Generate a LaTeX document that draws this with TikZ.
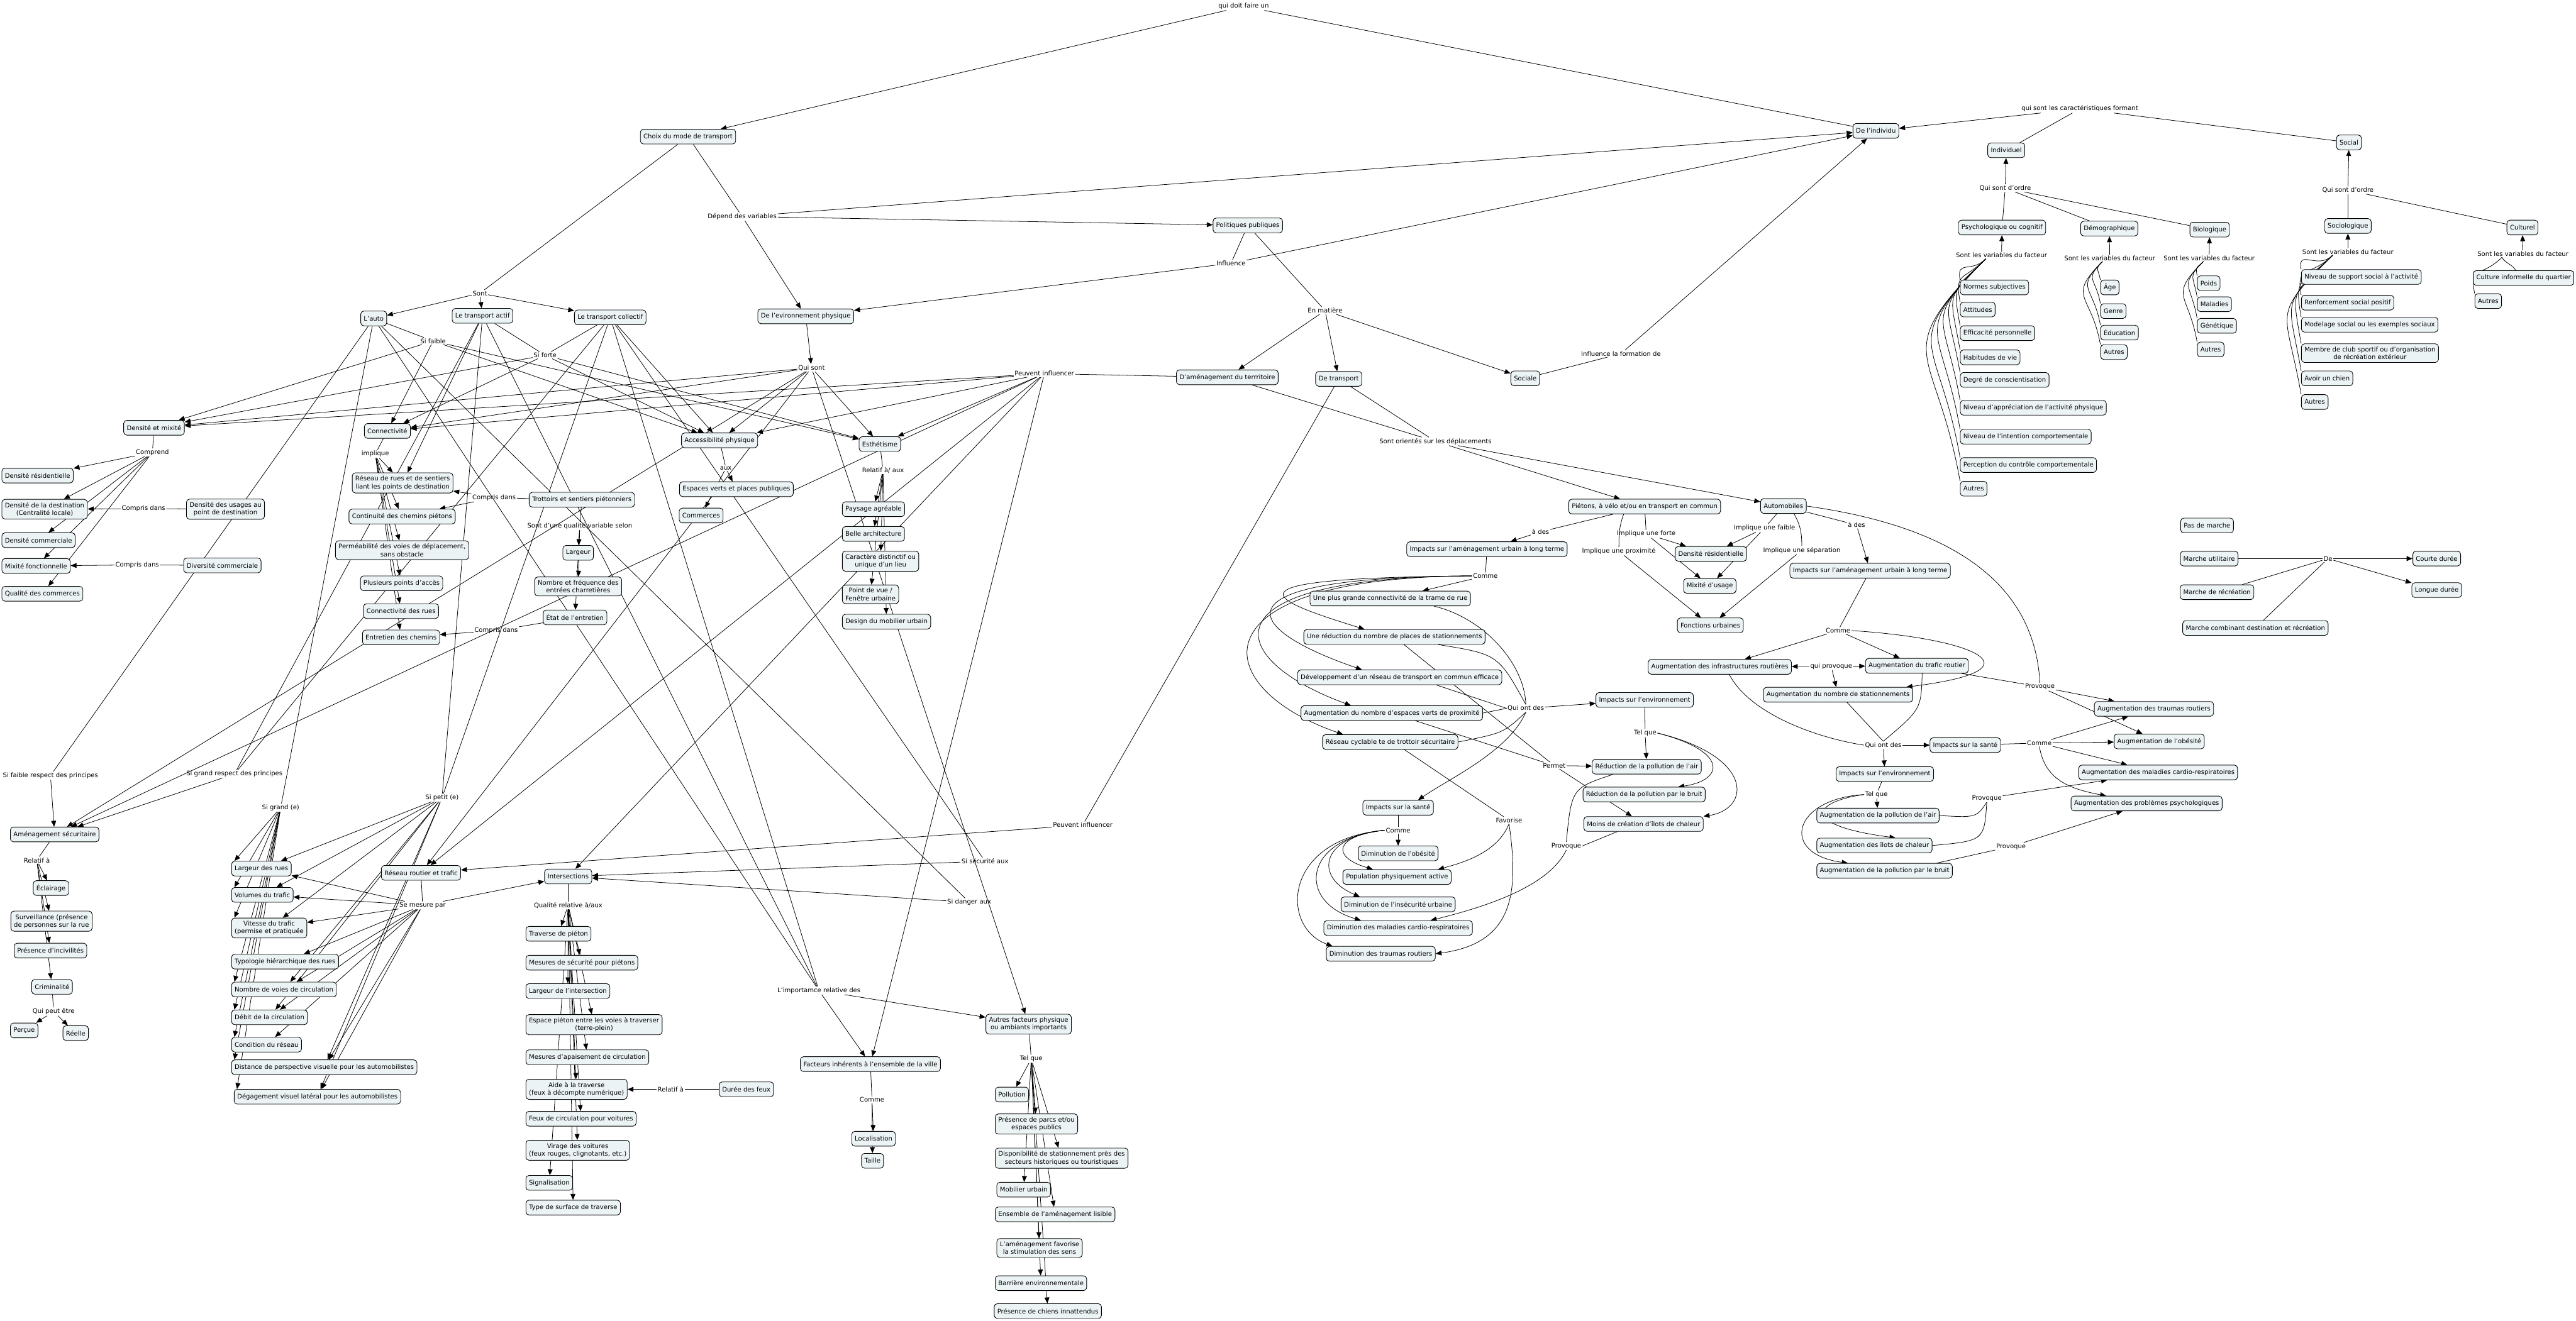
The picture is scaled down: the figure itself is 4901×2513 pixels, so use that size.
\documentclass[tikz,border=0pt]{standalone}
\usepackage{fontspec}
\setmainfont{DejaVu Sans}
\usetikzlibrary{arrows.meta, backgrounds, calc}
\definecolor{cmapbox}{RGB}{236,243,245}

\begin{document}
\begin{tikzpicture}[
        x=0.03cm, y=0.03cm,
        font=\fontsize{10.3}{12.4}\selectfont,
        box/.style={draw, rounded corners=5pt, fill=cmapbox, align=center, line width=0.9pt, inner xsep=5pt, inner ysep=5pt, minimum height=24pt},
        lbl/.style={inner sep=1.5pt, align=center},
        arr/.style={-{Triangle[length=3.4mm, width=2.8mm]}, line width=0.8pt},
        lin/.style={line width=0.8pt},
        bow/.style={lin, out=225, in=100, looseness=1.6}
    ]
    \useasboundingbox (0,0) rectangle (4901,-2513);

    \node[lbl] (doit) at (2366,-12) {qui doit faire un};
    \node[box] (choix) at (1309,-260) {Choix du mode de transport};
    \node[box] (individu) at (3569,-249) {De l'individu};
    \node[lbl] (depend) at (1412,-412) {Dépend des variables};
    \node[box] (polpub) at (2374,-429) {Politiques publiques};
    \node[lbl] (influ) at (2342,-501) {Influence};
    \node[box] (envphys) at (1533,-602) {De l'evironnement physique};
    \node[lbl] (enmat) at (2521,-591) {En matière};
    \node[lbl] (form) at (3084,-673) {Influence la formation de};
    \node[box] (amenag) at (2335,-718) {D'aménagement du terrritoire};
    \node[box] (detransp) at (2547,-721) {De transport};
    \node[box] (sociale) at (2902,-720) {Sociale};

    \node[lbl] (carac) at (3957,-207) {qui sont les caractéristiques formant};
    \node[box] (individuel) at (3817,-286) {Individuel};
    \node[box] (social) at (4469,-271) {Social};
    \node[lbl] (ordre1) at (3815,-358) {Qui sont d'ordre};
    \node[lbl] (ordre2) at (4467,-362) {Qui sont d'ordre};
    \node[box] (psycho) at (3809,-433) {Psychologique ou cognitif};
    \node[box] (demog) at (4013,-435) {Démographique};
    \node[box] (biolog) at (4204,-437) {Biologique};
    \node[box] (sociol) at (4467,-430) {Sociologique};
    \node[box] (cultur) at (4799,-433) {Culturel};
    \node[lbl] (var1) at (3808,-486) {Sont les variables du facteur};
    \node[lbl] (var2) at (4014,-491) {Sont les variables du facteur};
    \node[lbl] (var3) at (4203,-491) {Sont les variables du facteur};
    \node[lbl] (var4) at (4467,-479) {Sont les variables du facteur};
    \node[lbl] (var5) at (4800,-483) {Sont les variables du facteur};
    \node[box, anchor=west] (normes) at (3729,-547) {Normes subjectives};
    \node[box, anchor=west] (attitudes) at (3729,-589) {Attitudes};
    \node[box, anchor=west] (efficac) at (3729,-634) {Efficacité personnelle};
    \node[box, anchor=west] (habitudes) at (3729,-680) {Habitudes de vie};
    \node[box, anchor=west] (degre) at (3729,-723) {Degré de conscientisation};
    \node[box, anchor=west] (apprec) at (3729,-776) {Niveau d'appréciation de l'activité physique};
    \node[box, anchor=west] (intention) at (3729,-831) {Niveau de l'intention comportementale};
    \node[box, anchor=west] (perception) at (3729,-885) {Perception du contrôle comportementale};
    \node[box, anchor=west] (autresa) at (3729,-930) {Autres};
    \node[box, anchor=west] (age) at (3996,-547) {Âge};
    \node[box, anchor=west] (genre) at (3996,-592) {Genre};
    \node[box, anchor=west] (educ) at (3996,-633) {Éducation};
    \node[box, anchor=west] (autresb) at (3996,-670) {Autres};
    \node[box, anchor=west] (poids) at (4180,-539) {Poids};
    \node[box, anchor=west] (maladies) at (4180,-579) {Maladies};
    \node[box, anchor=west] (genet) at (4180,-620) {Génétique};
    \node[box, anchor=west] (autresc) at (4180,-665) {Autres};
    \node[box, anchor=west] (support) at (4378,-527) {Niveau de support social à l'activité};
    \node[box, anchor=west] (renforc) at (4378,-576) {Renforcement social positif};
    \node[box, anchor=west] (modelage) at (4378,-618) {Modelage social ou les exemples sociaux};
    \node[box, anchor=west] (membre) at (4378,-672) {Membre de club sportif ou d'organisation\\de récréation extérieur};
    \node[box, anchor=west] (chien) at (4378,-720) {Avoir un chien};
    \node[box, anchor=west] (autresd) at (4378,-765) {Autres};
    \node[box, anchor=west] (cultinf) at (4705,-529) {Culture informelle du quartier};
    \node[box, anchor=west] (autrese) at (4708,-573) {Autres};

    \node[lbl] (sont) at (913,-558) {Sont};
    \node[box] (auto) at (711,-606) {L'auto};
    \node[box] (actif) at (918,-601) {Le transport actif};
    \node[box] (collectif) at (1161,-604) {Le transport collectif};
    \node[lbl] (sifaible) at (824,-649) {Si faible};
    \node[lbl] (siforte) at (1037,-676) {Si forte};
    \node[lbl] (quisont) at (1544,-700) {Qui sont};
    \node[lbl] (peuvent) at (1987,-711) {Peuvent influencer};

    \node[box] (densmix) at (293,-814) {Densité et mixité};
    \node[box] (connect) at (737,-820) {Connectivité};
    \node[box] (access) at (1369,-838) {Accessibilité physique};
    \node[box] (esthet) at (1674,-845) {Esthétisme};
    \node[lbl] (comprend) at (290,-861) {Comprend};
    \node[lbl] (implique) at (714,-864) {implique};
    \node[lbl] (aux) at (1381,-891) {aux};
    \node[lbl] (relaux) at (1680,-895) {Relatif à/ aux};

    \node[box, anchor=west] (densres) at (3,-905) {Densité résidentielle};
    \node[box, anchor=west] (densdest) at (3,-969) {Densité de la destination\\(Centralité locale)};
    \node[box, anchor=west] (denscom) at (3,-1028) {Densité commerciale};
    \node[box, anchor=west] (mixfonc) at (3,-1077) {Mixité fonctionnelle};
    \node[box, anchor=west] (qualcom) at (3,-1130) {Qualité des commerces};
    \node[lbl] (compris1) at (273,-968) {Compris dans};
    \node[box] (densusag) at (429,-969) {Densité des usages au\\point de destination};
    \node[lbl] (compris2) at (261,-1075) {Compris dans};
    \node[box] (divcom) at (423,-1076) {Diversité commerciale};

    \node[box] (reseaurues) at (766,-919) {Réseau de rues et de sentiers\\liant les points de destination};
    \node[box] (continu) at (765,-983) {Continuité des chemins piétons};
    \node[box] (permeab) at (765,-1047) {Perméabilité des voies de déplacement,\\sans obstacle};
    \node[box] (pointsacc) at (764,-1110) {Plusieurs points d'accès};
    \node[box] (connrues) at (763,-1163) {Connectivité des rues};
    \node[box] (entretien) at (763,-1213) {Entretien des chemins};
    \node[lbl] (compris3) at (940,-947) {Compris dans};
    \node[lbl] (compris4) at (944,-1200) {Compris dans};

    \node[box] (trottoirs) at (1107,-951) {Trottoirs et sentiers piétonniers};
    \node[lbl] (qualvar) at (1103,-1001) {Sont d'une qualité variable selon};
    \node[box] (largeur) at (1100,-1052) {Largeur};
    \node[box] (entrees) at (1100,-1116) {Nombre et fréquence des\\entrées charretières};
    \node[box] (etatentr) at (1094,-1175) {État de l'entretien};
    \node[box] (espverts) at (1401,-931) {Espaces verts et places publiques};
    \node[box] (commerces) at (1334,-981) {Commerces};

    \node[box, anchor=west] (paysage) at (1602,-969) {Paysage agréable};
    \node[box, anchor=west] (archi) at (1602,-1016) {Belle architecture};
    \node[box, anchor=west] (caract) at (1602,-1068) {Caractère distinctif ou\\unique d'un lieu};
    \node[box, anchor=west] (pointvue) at (1602,-1131) {Point de vue /\\Fenêtre urbaine};
    \node[box, anchor=west] (design) at (1602,-1183) {Design du mobilier urbain};

    \node[lbl] (sifrp) at (96,-1476) {Si faible respect des principes};
    \node[lbl] (sigrp) at (446,-1473) {Si grand respect des principes};
    \node[lbl] (sigrand) at (534,-1537) {Si grand (e)};
    \node[lbl] (sipetit) at (841,-1518) {Si petit (e)};
    \node[box] (amsecu) at (104,-1588) {Aménagement sécuritaire};
    \node[lbl] (relatif) at (70,-1637) {Relatif à};
    \node[box] (eclair) at (97,-1690) {Éclairage};
    \node[box] (surveil) at (98,-1753) {Surveillance (présence\\de personnes sur la rue};
    \node[box] (incivil) at (96,-1809) {Présence d'incivilités};
    \node[box] (crimin) at (99,-1878) {Criminalité};
    \node[lbl] (peutetre) at (102,-1925) {Qui peut être};
    \node[box] (percue) at (46,-1961) {Perçue};
    \node[box] (reelle) at (144,-1966) {Réelle};

    \node[box, anchor=west] (largrues) at (440,-1653) {Largeur des rues};
    \node[box, anchor=west] (volumes) at (440,-1703) {Volumes du trafic};
    \node[box, anchor=west] (vitesse) at (440,-1766) {Vitesse du trafic\\(permise et pratiquée};
    \node[box, anchor=west] (typolog) at (440,-1830) {Typologie hiérarchique des rues};
    \node[box, anchor=west] (nbvoies) at (440,-1883) {Nombre de voies de circulation};
    \node[box, anchor=west] (debit) at (440,-1936) {Débit de la circulation};
    \node[box, anchor=west] (condres) at (440,-1988) {Condition du réseau};
    \node[box, anchor=west] (distpersp) at (440,-2031) {Distance de perspective visuelle pour les automobilistes};
    \node[box, anchor=west] (degag) at (445,-2087) {Dégagement visuel latéral pour les automobilistes};
    \node[box] (resrout) at (801,-1661) {Réseau routier et trafic};
    \node[lbl] (mesure) at (804,-1723) {Se mesure par};

    \node[box] (intersect) at (1081,-1668) {Intersections};
    \node[lbl] (qualrel) at (1081,-1723) {Qualité relative à/aux};
    \node[box, anchor=west] (travpiet) at (1000,-1777) {Traverse de piéton};
    \node[box, anchor=west] (mesecu) at (1000,-1832) {Mesures de sécurité pour piétons};
    \node[box, anchor=west] (larginter) at (1000,-1886) {Largeur de l'intersection};
    \node[box, anchor=west] (esppiet) at (1000,-1950) {Espace piéton entre les voies à traverser\\(terre-plein)};
    \node[box, anchor=west] (apais) at (1000,-2012) {Mesures d'apaisement de circulation};
    \node[box, anchor=west] (aidetrav) at (1000,-2073) {Aide à la traverse\\(feux à décompte numérique)};
    \node[box, anchor=west] (feuxcirc) at (1000,-2129) {Feux de circulation pour voitures};
    \node[box, anchor=west] (virage) at (1000,-2189) {Virage des voitures\\(feux rouges, clignotants, etc.)};
    \node[box, anchor=west] (signal) at (1000,-2251) {Signalisation};
    \node[box, anchor=west] (surface) at (1000,-2298) {Type de surface de traverse};
    \node[lbl] (relatif2) at (1276,-2073) {Relatif à};
    \node[box] (dureefeux) at (1420,-2073) {Durée des feux};

    \node[lbl] (sisecu) at (1874,-1639) {Si sécurité aux};
    \node[lbl] (sidanger) at (1844,-1717) {Si danger aux};
    \node[lbl] (peuvent2) at (2060,-1570) {Peuvent influencer};
    \node[lbl] (import) at (1558,-1885) {L'importamce relative des};
    \node[box] (factinh) at (1656,-2025) {Facteurs inhérents à l'ensemble de la ville};
    \node[lbl] (comme0) at (1659,-2093) {Comme};
    \node[box] (localis) at (1662,-2167) {Localisation};
    \node[box] (taille) at (1660,-2209) {Taille};
    \node[box] (autresfact) at (1957,-1949) {Autres facteurs physique\\ou ambiants importants};
    \node[lbl] (telque0) at (1962,-2015) {Tel que};
    \node[box, anchor=west] (pollution) at (1893,-2083) {Pollution};
    \node[box, anchor=west] (parcs) at (1893,-2139) {Présence de parcs et/ou\\espaces publics};
    \node[box, anchor=west] (dispstat) at (1893,-2204) {Disponibilité de stationnement près des\\secteurs historiques ou touristiques};
    \node[box, anchor=west] (mobilier) at (1896,-2264) {Mobilier urbain};
    \node[box, anchor=west] (ensemble) at (1893,-2311) {Ensemble de l'aménagement lisible};
    \node[box, anchor=west] (stimul) at (1896,-2375) {L'aménagement favorise\\la stimulation des sens};
    \node[box, anchor=west] (barriere) at (1893,-2442) {Barrière environnementale};
    \node[box, anchor=west] (chiens) at (1891,-2495) {Présence de chiens innattendus};

    \node[lbl] (orient) at (2731,-840) {Sont orientés sur les déplacements};
    \node[box] (pietons) at (3129,-964) {Piétons, à vélo et/ou en transport en commun};
    \node[box] (automob) at (3393,-963) {Automobiles};
    \node[lbl] (ades1) at (2931,-1012) {à des};
    \node[lbl] (forte) at (3132,-1016) {Implique une forte};
    \node[lbl] (faible) at (3357,-1005) {Implique une faible};
    \node[lbl] (proxim) at (3080,-1049) {Implique une proximité};
    \node[lbl] (separ) at (3428,-1047) {Implique une séparation};
    \node[lbl] (ades2) at (3532,-999) {à des};
    \node[box] (densres2) at (3255,-1054) {Densité résidentielle};
    \node[box] (mixusage) at (3253,-1115) {Mixité d'usage};
    \node[box] (foncturb) at (3254,-1190) {Fonctions urbaines};

    \node[box] (impamL) at (2829,-1045) {Impacts sur l'aménagement urbain à long terme};
    \node[lbl] (commeL) at (2826,-1096) {Comme};
    \node[box] (trame) at (2645,-1139) {Une plus grande connectivité de la trame de rue};
    \node[box] (reducstat) at (2653,-1212) {Une réduction du nombre de places de stationnements};
    \node[box] (devtc) at (2663,-1289) {Développement d'un réseau de transport en commun efficace};
    \node[box] (augverts) at (2648,-1357) {Augmentation du nombre d'espaces verts de proximité};
    \node[box] (cyclable) at (2645,-1412) {Réseau cyclable te de trottoir sécuritaire};
    \node[lbl] (quiontL) at (2903,-1348) {Qui ont des};
    \node[box] (impenvL) at (3129,-1332) {Impacts sur l'environnement};
    \node[lbl] (telqueL) at (3130,-1395) {Tel que};
    \node[lbl] (permet) at (2957,-1457) {Permet};
    \node[box] (redair) at (3133,-1459) {Réduction de la pollution de l'air};
    \node[box] (redbruit) at (3128,-1512) {Réduction de la pollution par le bruit};
    \node[box] (moinsilots) at (3127,-1568) {Moins de création d'îlots de chaleur};
    \node[lbl] (provL) at (2980,-1610) {Provoque};
    \node[box] (impsanteL) at (2660,-1537) {Impacts sur la santé};
    \node[lbl] (commeS) at (2660,-1580) {Comme};
    \node[lbl] (favor) at (2871,-1561) {Favorise};
    \node[box] (dimobes) at (2660,-1624) {Diminution de l'obésité};
    \node[box] (popact) at (2658,-1669) {Population physiquement active};
    \node[box] (diminsec) at (2660,-1721) {Diminution de l'insécurité urbaine};
    \node[box] (dimmal) at (2660,-1766) {Diminution des maladies cardio-respiratoires};
    \node[box] (dimtraum) at (2627,-1815) {Diminution des traumas routiers};

    \node[box] (impamR) at (3558,-1086) {Impacts sur l'aménagement urbain à long terme};
    \node[lbl] (commeR) at (3497,-1200) {Comme};
    \node[box] (augmentinfra) at (3272,-1269) {Augmentation des infrastructures routières};
    \node[lbl] (quiprov) at (3484,-1268) {qui provoque};
    \node[box] (augtrafic) at (3647,-1267) {Augmentation du trafic routier};
    \node[box] (augstat) at (3497,-1322) {Augmentation du nombre de stationnements};
    \node[lbl] (provT) at (3881,-1307) {Provoque};
    \node[box] (augtraum) at (4098,-1349) {Augmentation des traumas routiers};
    \node[box] (augobes) at (4108,-1411) {Augmentation de l'obésité};
    \node[box] (augmal) at (4106,-1470) {Augmentation des maladies cardio-respiratoires};
    \node[box] (augpsy) at (4084,-1529) {Augmentation des problèmes psychologiques};
    \node[lbl] (quiontR) at (3583,-1418) {Qui ont des};
    \node[box] (impsanteR) at (3739,-1418) {Impacts sur la santé};
    \node[lbl] (commeR2) at (3880,-1414) {Comme};
    \node[box] (impenvR) at (3586,-1473) {Impacts sur l'environnement};
    \node[lbl] (telqueR) at (3570,-1512) {Tel que};
    \node[box, anchor=west] (augair) at (3456,-1552) {Augmentation de la pollution de l'air};
    \node[box, anchor=west] (augilots) at (3456,-1609) {Augmentation des îlots de chaleur};
    \node[box, anchor=west] (augbruit) at (3456,-1657) {Augmentation de la pollution par le bruit};
    \node[lbl] (provR1) at (3780,-1519) {Provoque};
    \node[lbl] (provR2) at (3826,-1611) {Provoque};

    \node[box] (pasmarche) at (4199,-1000) {Pas de marche};
    \node[box] (marcheutil) at (4203,-1063) {Marche utilitaire};
    \node[lbl] (de) at (4429,-1063) {De};
    \node[box] (courte) at (4636,-1063) {Courte durée};
    \node[box] (marcherec) at (4218,-1127) {Marche de récréation};
    \node[box] (longue) at (4636,-1123) {Longue durée};
    \node[box] (marchecomb) at (4291,-1195) {Marche combinant destination et récréation};

    \begin{scope}[on background layer]
        \draw[lin] (individu) -- (doit);
        \draw[arr] (doit) -- (choix);
        \draw[lin] (choix) -- (sont);
        \foreach \t in {auto,actif,collectif} \draw[arr] (sont) -- (\t);
        \draw[lin] (choix) -- (depend);
        \foreach \t in {envphys,polpub,individu} \draw[arr] (depend) -- (\t);
        \draw[lin] (polpub) -- (influ);
        \foreach \t in {envphys,individu} \draw[arr] (influ) -- (\t);
        \draw[lin] (polpub) -- (enmat);
        \foreach \t in {amenag,detransp,sociale} \draw[arr] (enmat) -- (\t);
        \draw[lin] (sociale) -- (form);
        \draw[arr] (form) -- (individu);

        \draw[lin] (individuel) -- (carac);
        \draw[lin] (social) -- (carac);
        \draw[arr] (carac) -- (individu);
        \foreach \s in {psycho,demog,biolog} \draw[lin] (\s) -- (ordre1);
        \draw[arr] (ordre1) -- (individuel);
        \foreach \s in {sociol,cultur} \draw[lin] (\s) -- (ordre2);
        \draw[arr] (ordre2) -- (social);
        \draw[arr] (var1) -- (psycho);
        \draw[arr] (var2) -- (demog);
        \draw[arr] (var3) -- (biolog);
        \draw[arr] (var4) -- (sociol);
        \draw[arr] (var5) -- (cultur);
        \foreach \v in {normes,attitudes,efficac,habitudes,degre,apprec,intention,perception,autresa}
            \draw[bow] ($(var1.south)+(-30,0)$) to (\v.north west);
        \foreach \v in {age,genre,educ,autresb}
            \draw[bow] ($(var2.south)+(-14,0)$) to (\v.north west);
        \foreach \v in {poids,maladies,genet,autresc}
            \draw[bow] ($(var3.south)+(-11,0)$) to (\v.north west);
        \foreach \v in {support,renforc,modelage,membre,chien,autresd}
            \draw[bow] ($(var4.south)+(-29,0)$) to (\v.north west);
        \draw[lin] ($(var5.south)+(-40,0)$) to[out=-60, in=120] ($(cultinf.north)+(-15,0)$);
        \draw[bow] ($(var5.south)+(-40,0)$) to (autrese.north west);

        \draw[arr] (envphys) -- (quisont);
        \draw[lin] (auto) -- (sifaible);
        \draw[lin] (actif) -- (siforte);
        \draw[lin] (collectif) -- (siforte);
        \foreach \t in {densmix,connect,access,esthet} {
            \draw[arr] (sifaible) -- (\t);
            \draw[arr] (siforte) -- (\t);
        }
        \foreach \t in {densmix,connect,access,esthet,resrout,amsecu,autresfact} \draw[arr] (quisont) -- (\t);
        \draw[lin] (amenag) -- (peuvent);
        \foreach \t in {densmix,connect,access,esthet,resrout,intersect,amsecu,factinh} \draw[arr] (peuvent) -- (\t);
        \draw[arr] (collectif) -- (access);
        \draw[arr] (actif) -- (reseaurues);
        \draw[lin] (detransp) -- (peuvent2);
        \draw[arr] (peuvent2) -- (resrout);

        \draw[lin] (auto) -- (sifrp);
        \draw[arr] (sifrp) -- (amsecu);
        \draw[lin] (actif) -- (sigrp);
        \draw[lin] (collectif) -- (sigrp);
        \draw[arr] (sigrp) -- (amsecu);
        \draw[lin] (auto) -- (sigrand);
        \foreach \t in {largrues,volumes,vitesse,nbvoies,debit,condres,distpersp,degag}
            \draw[arr] (sigrand) -- ($(\t.north west)+(6,0)$);
        \draw[lin] (actif) -- (sipetit);
        \draw[lin] (collectif) -- (sipetit);
        \foreach \t in {largrues,volumes,vitesse,nbvoies,debit,distpersp,degag} \draw[arr] (sipetit) -- (\t);
        \draw[lin] (collectif) -- (sisecu);
        \draw[arr] (sisecu) -- (intersect);
        \draw[lin] (auto) -- (sidanger);
        \draw[arr] (sidanger) -- (intersect);
        \foreach \s in {auto,actif,collectif} \draw[lin] (\s) -- (import);
        \draw[arr] (import) -- (factinh);
        \draw[arr] (import) -- (autresfact);

        \draw[lin] (densmix) -- (comprend);
        \foreach \t in {densres,densdest,denscom,mixfonc,qualcom} \draw[arr] (comprend) -- (\t);
        \draw[lin] (densusag) -- (compris1);
        \draw[arr] (compris1) -- (densdest);
        \draw[lin] (divcom) -- (compris2);
        \draw[arr] (compris2) -- (mixfonc);
        \draw[lin] (connect) -- (implique);
        \foreach \t in {reseaurues,continu,permeab,pointsacc,connrues,entretien} \draw[arr] (implique) -- (\t);
        \draw[lin] (trottoirs) -- (compris3);
        \draw[arr] (compris3) -- (reseaurues);
        \draw[arr] (compris3) -- (continu);
        \draw[lin] (trottoirs) -- (qualvar);
        \foreach \t in {largeur,entrees,etatentr} \draw[arr] (qualvar) -- (\t);
        \draw[lin] (etatentr) -- (compris4);
        \draw[arr] (compris4) -- (entretien);
        \draw[lin] (access) -- (aux);
        \draw[arr] (aux) -- (espverts);
        \draw[arr] (aux) -- (commerces);
        \draw[lin] (esthet) -- (relaux);
        \foreach \t in {paysage,archi,caract,pointvue,design} \draw[arr] (relaux) -- (\t);

        \draw[lin] (amsecu) -- (relatif);
        \foreach \t in {eclair,surveil,incivil,crimin} \draw[arr] (relatif) -- (\t);
        \draw[lin] (crimin) -- (peutetre);
        \draw[arr] (peutetre) -- (percue);
        \draw[arr] (peutetre) -- (reelle);
        \draw[lin] (resrout) -- (mesure);
        \foreach \t in {largrues,volumes,vitesse,typolog,nbvoies,debit,condres,distpersp,degag,intersect} \draw[arr] (mesure) -- (\t);
        \draw[lin] (intersect) -- (qualrel);
        \foreach \t in {travpiet,mesecu,larginter,esppiet,apais,aidetrav,feuxcirc,virage,signal,surface} \draw[arr] (qualrel) -- (\t);
        \draw[lin] (dureefeux) -- (relatif2);
        \draw[arr] (relatif2) -- (aidetrav);
        \draw[lin] (factinh) -- (comme0);
        \draw[arr] (comme0) -- (localis);
        \draw[arr] (comme0) -- (taille);
        \draw[lin] (autresfact) -- (telque0);
        \foreach \t in {pollution,parcs,dispstat,mobilier,ensemble,stimul,barriere,chiens} \draw[arr] (telque0) -- (\t);

        \draw[lin] (amenag) -- (orient);
        \draw[lin] (detransp) -- (orient);
        \draw[arr] (orient) -- (pietons);
        \draw[arr] (orient) -- (automob);
        \draw[lin] (pietons) -- (ades1);
        \draw[arr] (ades1) -- (impamL);
        \draw[lin] (pietons) -- (forte);
        \draw[arr] (forte) -- (densres2);
        \draw[arr] (forte) -- (mixusage);
        \draw[lin] ($(pietons.south)+(-40,0)$) to[out=-110, in=90] (proxim);
        \draw[arr] (proxim) -- (foncturb);
        \draw[lin] (automob) -- (faible);
        \draw[arr] (faible) -- (densres2);
        \draw[arr] (faible) -- (mixusage);
        \draw[lin] ($(automob.south)+(20,0)$) to[out=-60, in=90] (separ);
        \draw[arr] (separ) -- (foncturb);
        \draw[lin] (automob) -- (ades2);
        \draw[arr] (ades2) -- (impamR);
        \draw[lin] (automob.east) .. controls (3700,-1000) and (3870,-1100) .. (provT.north);

        \draw[lin] (impamL) -- (commeL);
        \draw[arr] (commeL) -- (trame);
        \draw[arr] (commeL.west) .. controls (2310,-1100) and (2410,-1140) .. ($(reducstat.north)+(-57,0)$);
        \draw[arr] (commeL.west) .. controls (2300,-1098) and (2360,-1195) .. ($(devtc.north)+(-72,0)$);
        \draw[arr] (commeL.west) .. controls (2280,-1098) and (2330,-1255) .. ($(augverts.north)+(-78,0)$);
        \draw[arr] (commeL.west) .. controls (2260,-1098) and (2300,-1310) .. ($(cyclable.north)+(-90,0)$);
        \draw[lin] ($(trame.south east)+(-70,0)$) .. controls (2820,-1175) and (2900,-1260) .. (quiontL.north);
        \draw[lin] ($(reducstat.south east)+(-90,0)$) .. controls (2850,-1245) .. (quiontL.north);
        \draw[lin] ($(devtc.south)+(70,0)$) -- (quiontL.west);
        \draw[lin] (augverts.east) -- (quiontL.west);
        \draw[lin] (cyclable.east) .. controls (2860,-1395) .. (quiontL.south);
        \draw[arr] (quiontL) -- (impenvL);
        \draw[arr] (quiontL.south) .. controls (2870,-1430) and (2760,-1480) .. ($(impsanteL.north)+(38,0)$);
        \draw[lin] (reducstat) -- (permet);
        \draw[lin] (augverts) -- (permet);
        \draw[arr] (permet) -- (redair);
        \draw[arr] (permet) -- (moinsilots);
        \draw[lin] (impenvL) -- (telqueL);
        \draw[arr] (telqueL) -- (redair);
        \draw[arr] (telqueL.east) .. controls (3290,-1430) and (3280,-1485) .. ($(redbruit.north)+(65,0)$);
        \draw[arr] (telqueL.east) .. controls (3340,-1440) and (3330,-1540) .. (moinsilots.north east);
        \draw[lin] ($(redair.south)+(-64,0)$) .. controls (2990,-1500) .. (provL.north);
        \draw[lin] ($(moinsilots.south)+(-50,0)$) -- (provL.east);
        \draw[arr] (provL.south) .. controls (2950,-1680) and (2850,-1720) .. ($(dimmal.north)+(62,0)$);
        \draw[lin] ($(cyclable.south)+(27,0)$) -- (favor);
        \draw[arr] (favor.south) .. controls (2850,-1620) and (2790,-1640) .. ($(popact.north)+(78,0)$);
        \draw[arr] (favor.south) .. controls (2890,-1700) and (2880,-1795) .. (dimtraum.east);
        \draw[lin] (impsanteL) -- (commeS);
        \draw[arr] (commeS) -- (dimobes);
        \draw[arr] (commeS.west) .. controls (2540,-1590) and (2530,-1630) .. ($(popact.north)+(-46,0)$);
        \draw[arr] (commeS.west) .. controls (2510,-1592) and (2500,-1670) .. ($(diminsec.north)+(-73,0)$);
        \draw[arr] (commeS.west) .. controls (2480,-1594) and (2465,-1715) .. ($(dimmal.north)+(-71,0)$);
        \draw[arr] (commeS.west) .. controls (2440,-1596) and (2435,-1765) .. ($(dimtraum.north)+(-92,0)$);

        \draw[lin] (impamR) -- (commeR);
        \draw[arr] (commeR) -- (augmentinfra);
        \draw[arr] (commeR) -- (augtrafic);
        \draw[arr] (commeR.east) .. controls (3760,-1215) and (3890,-1275) .. ($(augstat.north)+(130,0)$);
        \draw[arr] (quiprov) -- (augmentinfra);
        \draw[arr] (quiprov) -- (augtrafic);
        \draw[arr] (quiprov) -- (augstat);
        \draw[lin] ($(augmentinfra.south)+(18,0)$) .. controls (3330,-1360) and (3460,-1405) .. (quiontR.west);
        \draw[lin] ($(augstat.south)+(17,0)$) -- (quiontR.north);
        \draw[lin] ($(augtrafic.south)+(10,0)$) .. controls (3655,-1350) .. (quiontR.north);
        \draw[arr] (quiontR) -- (impsanteR);
        \draw[arr] (quiontR) -- (impenvR);
        \draw[lin] (augtrafic) -- (provT);
        \draw[arr] (provT) -- (augtraum);
        \draw[arr] (provT) -- (augobes);
        \draw[lin] (impsanteR) -- (commeR2);
        \draw[arr] (commeR2) -- (augtraum);
        \draw[arr] (commeR2) -- (augobes);
        \draw[arr] (commeR2) -- (augmal);
        \draw[arr] (commeR2.south) .. controls (3890,-1480) and (3930,-1500) .. ($(augpsy.north)+(-77,0)$);
        \draw[lin] (impenvR) -- (telqueR);
        \draw[arr] (telqueR) -- (augair);
        \draw[arr] (telqueR.west) .. controls (3450,-1525) and (3420,-1570) .. ($(augilots.north)+(40,0)$);
        \draw[arr] (telqueR.west) .. controls (3410,-1520) and (3385,-1625) .. ($(augbruit.north)+(-70,0)$);
        \draw[lin] (augair.east) .. controls (3760,-1556) .. (provR1.south);
        \draw[lin] (augilots.east) .. controls (3775,-1600) .. (provR1.south);
        \draw[arr] (provR1) -- (augmal);
        \draw[lin] ($(augbruit.north east)+(-30,0)$) -- (provR2);
        \draw[arr] (provR2) -- (augpsy);

        \foreach \s in {marcheutil,marcherec,marchecomb} \draw[lin] (\s) -- (de);
        \draw[arr] (de) -- (courte);
        \draw[arr] (de) -- (longue);
    \end{scope}
\end{tikzpicture}
\end{document}
